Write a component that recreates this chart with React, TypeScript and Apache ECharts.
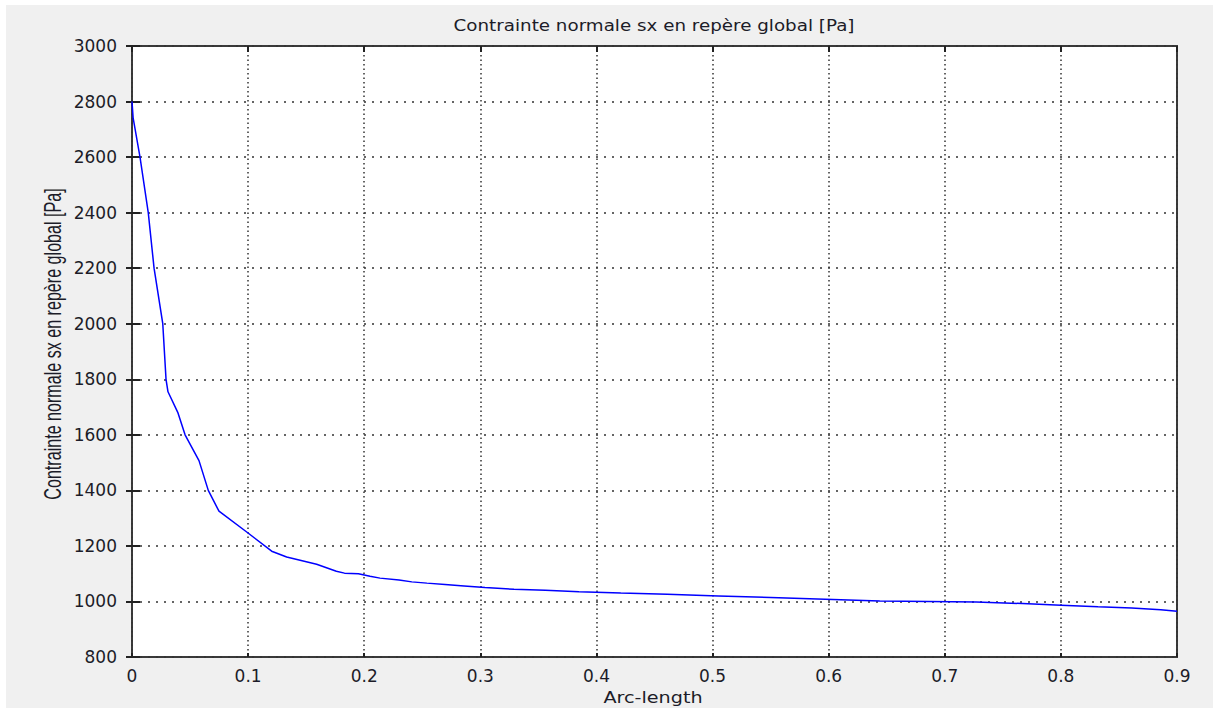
import React, { useEffect, useRef } from "react";
import * as echarts from "echarts";

const titleText = "Contrainte normale sx en repère global [Pa]";
const xAxisName = "Arc-length";
const yAxisName = "Contrainte normale sx en repère global [Pa]";

const arcLength = [
  0, 0.001, 0.0069, 0.014, 0.019, 0.0265, 0.0293, 0.031, 0.0394, 0.0457, 0.0577,
  0.0657, 0.0749, 0.0988, 0.1203, 0.1332, 0.159, 0.176, 0.183, 0.195, 0.205,
  0.2136, 0.23, 0.241, 0.254, 0.2696, 0.286, 0.304, 0.329, 0.356, 0.385, 0.421,
  0.461, 0.505, 0.55, 0.597, 0.644, 0.686, 0.727, 0.767, 0.8, 0.832, 0.861,
  0.886, 0.9,
];
const stress = [
  2800, 2740, 2600, 2400, 2200, 2000, 1800, 1755, 1681, 1600, 1507,
  1400, 1325, 1250, 1181, 1160, 1134, 1109, 1102, 1100, 1091,
  1084, 1077, 1070.5, 1066, 1061, 1056, 1050, 1044, 1040, 1035, 1030,
  1026, 1020, 1014, 1008, 1002, 1000, 998, 992.5, 986.5, 980.6, 976,
  970, 965,
];

const xMin = 0;
const xMax = 0.9;
const xStep = 0.1;
const yMin = 800;
const yMax = 3000;
const yStep = 200;

export default function App() {
  const ref = useRef<HTMLDivElement>(null);
  useEffect(() => {
    if (!ref.current) return;
    const chart = echarts.init(ref.current, null, { renderer: "svg" });
    const textColor = "#1c1c28";
    const tickFont = '"DejaVu Sans", Verdana, sans-serif';
    const data = arcLength.map((x, i) => [x, stress[i]]);
    chart.setOption({
      animation: false,
      backgroundColor: "#ffffff",
      graphic: [
        {
          type: "rect",
          z: -100,
          silent: true,
          shape: { x: 6, y: 5, width: 1213, height: 708 },
          style: { fill: "#f0f0f0" },
        },
        {
          type: "text",
          x: 654,
          y: 26,
          scaleX: 1.22,
          style: {
            text: titleText,
            fontFamily: tickFont,
            fontSize: 15,
            fill: textColor,
            textAlign: "center",
            textVerticalAlign: "middle",
          },
        },
        {
          type: "text",
          x: 653,
          y: 698,
          scaleX: 1.2,
          style: {
            text: xAxisName,
            fontFamily: tickFont,
            fontSize: 16,
            fill: textColor,
            textAlign: "center",
            textVerticalAlign: "middle",
          },
        },
        {
          type: "text",
          x: 53,
          y: 344,
          rotation: Math.PI / 2,
          scaleX: 0.7,
          style: {
            text: yAxisName,
            fontFamily: '"Liberation Sans", Arial, sans-serif',
            fontSize: 23,
            fill: textColor,
            textAlign: "center",
            textVerticalAlign: "middle",
          },
        },
      ],
      grid: {
        left: 132,
        top: 46,
        right: 36,
        bottom: 51,
        show: true,
        backgroundColor: "#ffffff",
        borderColor: "#3a3a3a",
        borderWidth: 2,
      },
      xAxis: [
        {
          type: "value",
          min: xMin,
          max: xMax,
          interval: xStep,
          axisLine: { show: false },
          axisTick: { show: true, inside: true, length: 4, lineStyle: { color: "#222", width: 2 } },
          axisLabel: {
            fontFamily: tickFont,
            fontSize: 17,
            color: textColor,
            margin: 10,
            formatter: (v: number) => String(Math.round(v * 10) / 10),
          },
          splitLine: {
            show: true,
            lineStyle: { color: "#333", width: 1.5, type: [1.5, 3] },
          },
        },
        {
          type: "value",
          position: "top",
          min: xMin,
          max: xMax,
          interval: xStep,
          axisLine: { show: false },
          axisTick: { show: true, inside: true, length: 6, lineStyle: { color: "#222", width: 2 } },
          axisLabel: { show: false },
          splitLine: { show: false },
        },
      ],
      yAxis: [
        {
          type: "value",
          min: yMin,
          max: yMax,
          interval: yStep,
          axisLine: { show: false },
          axisTick: { show: true, inside: true, length: 8, lineStyle: { color: "#222", width: 2 } },
          axisLabel: {
            fontFamily: tickFont,
            fontSize: 17,
            color: textColor,
            margin: 15,
            formatter: (v: number) => String(v),
          },
          splitLine: {
            show: true,
            lineStyle: { color: "#333", width: 1.5, type: [2, 6] },
          },
        },
        {
          type: "value",
          position: "right",
          min: yMin,
          max: yMax,
          interval: yStep,
          axisLine: { show: false },
          axisTick: { show: true, inside: true, length: 6, lineStyle: { color: "#222", width: 2 } },
          axisLabel: { show: false },
          splitLine: { show: false },
        },
      ],
      series: [
        {
          type: "line",
          data,
          xAxisIndex: 0,
          yAxisIndex: 0,
          showSymbol: false,
          symbol: "none",
          lineStyle: { color: "#0000ff", width: 1.5 },
          z: 5,
        },
      ],
    });
    return () => chart.dispose();
  }, []);
  return (
    <div
      ref={ref}
      style={{ position: "absolute", left: 0, top: 0, width: 1213, height: 708 }}
    />
  );
}
